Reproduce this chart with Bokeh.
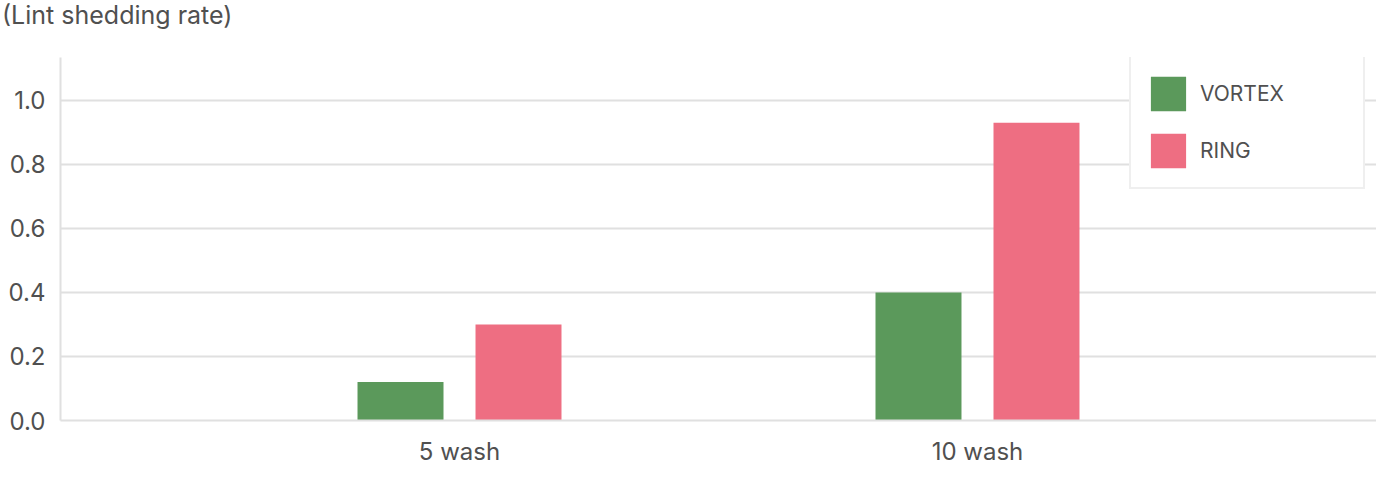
from bokeh.plotting import figure
from bokeh.models import (ColumnDataSource, FactorRange, Range1d, FixedTicker,
                          PrintfTickFormatter, Legend, LegendItem, Div)
from bokeh.layouts import column
from bokeh.transform import dodge
from bokeh.embed import file_html
from bokeh.resources import INLINE

# ---- data ----
categories = ["5 wash", "10 wash"]
vortex = [0.12, 0.40]
ring = [0.30, 0.93]
series_names = ["VORTEX", "RING"]
y_ticks = [0.0, 0.2, 0.4, 0.6, 0.8, 1.0]
title_text = "(Lint shedding rate)"

GREEN = "#5b995b"
PINK = "#ee6e82"
TEXT = "#505050"
GRID = "#e0e0e0"
FONT = "Inter"

W = 1376
TITLE_H = 36
H = 468 - TITLE_H
BL, BR, BT, BB = 60, 0, 57 - TITLE_H, 48
FRAME_H = H - BT - BB

src = ColumnDataSource(dict(cat=categories, vortex=vortex, ring=ring))

title_div = Div(text=title_text, width=W, height=TITLE_H, margin=0,
                styles={"font-family": FONT, "font-size": "25px", "color": TEXT,
                        "line-height": "30px", "padding-left": "2px"})

p = figure(width=W, height=H, output_backend="svg", toolbar_location=None,
           x_range=FactorRange(factors=categories, range_padding=0.2703,
                               range_padding_units="absolute"),
           y_range=Range1d(0, 1.134),
           min_border_left=BL, min_border_right=BR, min_border_top=BT,
           min_border_bottom=BB, margin=0)
p.outline_line_color = None
p.background_fill_color = "white"

r1 = p.vbar(x=dodge("cat", -0.1139, range=p.x_range), top="vortex", width=0.166,
            source=src, fill_color=GREEN, line_color=None)
r2 = p.vbar(x=dodge("cat", 0.1139, range=p.x_range), top="ring", width=0.166,
            source=src, fill_color=PINK, line_color=None)

# axes
p.yaxis.ticker = FixedTicker(ticks=y_ticks)
p.yaxis.formatter = PrintfTickFormatter(format="%.1f")
for ax in (p.xaxis[0], p.yaxis[0]):
    ax.axis_line_color = GRID
    ax.axis_line_width = 2
    ax.major_tick_line_color = None
    ax.minor_tick_line_color = None
    ax.major_tick_out = 0
    ax.major_tick_in = 0
    ax.minor_tick_out = 0
    ax.minor_tick_in = 0
    ax.major_label_text_font = FONT
    ax.major_label_text_font_size = "24px"
    ax.major_label_text_color = TEXT
p.yaxis.major_label_standoff = 15
p.xaxis.major_label_standoff = 16

p.xgrid.grid_line_color = None
p.ygrid.grid_line_color = GRID
p.ygrid.grid_line_width = 2
p.ygrid.ticker = FixedTicker(ticks=y_ticks)

legend = Legend(items=[LegendItem(label=series_names[0], renderers=[r1]),
                       LegendItem(label=series_names[1], renderers=[r2])],
                location=(1069, FRAME_H - 132))
legend.glyph_width = 44
legend.glyph_height = 43
legend.label_standoff = 10
legend.label_width = 148
legend.padding = 15
legend.spacing = 14
legend.margin = 0
legend.border_line_color = GRID
legend.border_line_width = 2
legend.background_fill_color = "white"
legend.background_fill_alpha = 1
legend.label_text_font = FONT
legend.label_text_font_size = "21px"
legend.label_text_color = TEXT
p.add_layout(legend, "center")

layout = column(title_div, p, spacing=0)
open("out.html", "w").write(file_html(layout, INLINE))
